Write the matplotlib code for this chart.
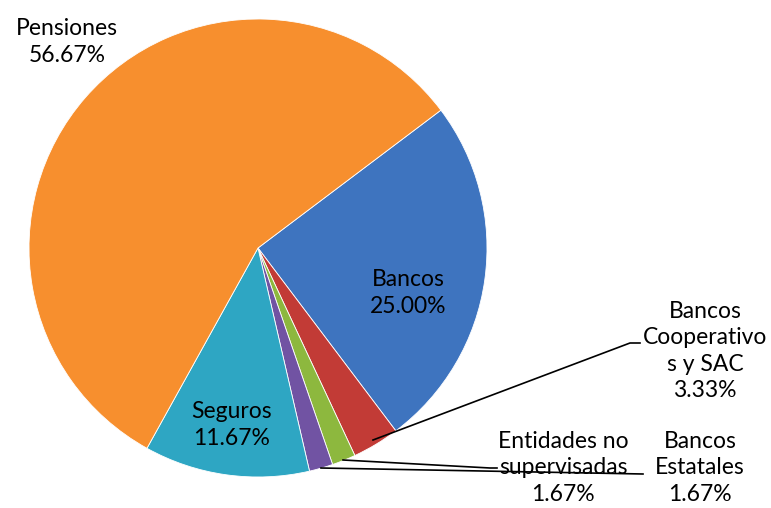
import matplotlib
matplotlib.use("Agg")
import matplotlib.pyplot as plt

categories = ["Bancos", "Bancos\nCooperativo\ns y SAC", "Entidades no\nsupervisadas",
              "Bancos\nEstatales", "Seguros", "Pensiones"]
values = [25.00, 3.33, 1.67, 1.67, 11.67, 56.67]
colors = ["#3E74BF", "#C23B36", "#8DB83E", "#7153A3", "#2EA6C3", "#F78F2E"]

plt.rcParams['font.family'] = ['Lato', 'DejaVu Sans']

fig = plt.figure(figsize=(7.71, 5.08), dpi=100)
ax = fig.add_axes([0, 0, 1, 1])

cx, cy, r = 258, 248, 229
wedges, _ = ax.pie(values, colors=colors, startangle=-37, counterclock=True,
                   center=(cx, cy), radius=r, frame=True,
                   wedgeprops=dict(edgecolor='white', linewidth=0.6))
ax.set_xlim(0, 771)
ax.set_ylim(508, 0)
ax.set_aspect('equal')
ax.axis('off')

fs = 16.5
ls = 1.3
def pct(v):
    return f"{v:.2f}%"

# inside labels
ax.text(408, 293, f"{categories[0]}\n{pct(values[0])}", ha='center', va='center',
        fontsize=fs, linespacing=ls)
ax.text(232, 425, f"{categories[4]}\n{pct(values[4])}", ha='center', va='center',
        fontsize=fs, linespacing=ls)
# outside labels
ax.text(67, 42, f"{categories[5]}\n{pct(values[5])}", ha='center', va='center',
        fontsize=fs, linespacing=ls)
ax.text(705, 351, f"{categories[1]}\n{pct(values[1])}", ha='center', va='center',
        fontsize=fs, linespacing=ls)
ax.text(563, 468, f"{categories[2]}\n{pct(values[2])}", ha='center', va='center',
        fontsize=fs, linespacing=ls)
ax.text(700, 468, f"{categories[3]}\n{pct(values[3])}", ha='center', va='center',
        fontsize=fs, linespacing=ls)

# leader lines
ax.plot([373, 630, 640], [440, 343, 343], color='black', lw=1.2)
ax.plot([343, 490, 497], [460, 468, 468], color='black', lw=1.2)
ax.plot([321, 643], [468, 474], color='black', lw=1.2)

fig.savefig("out.png", dpi=100)
